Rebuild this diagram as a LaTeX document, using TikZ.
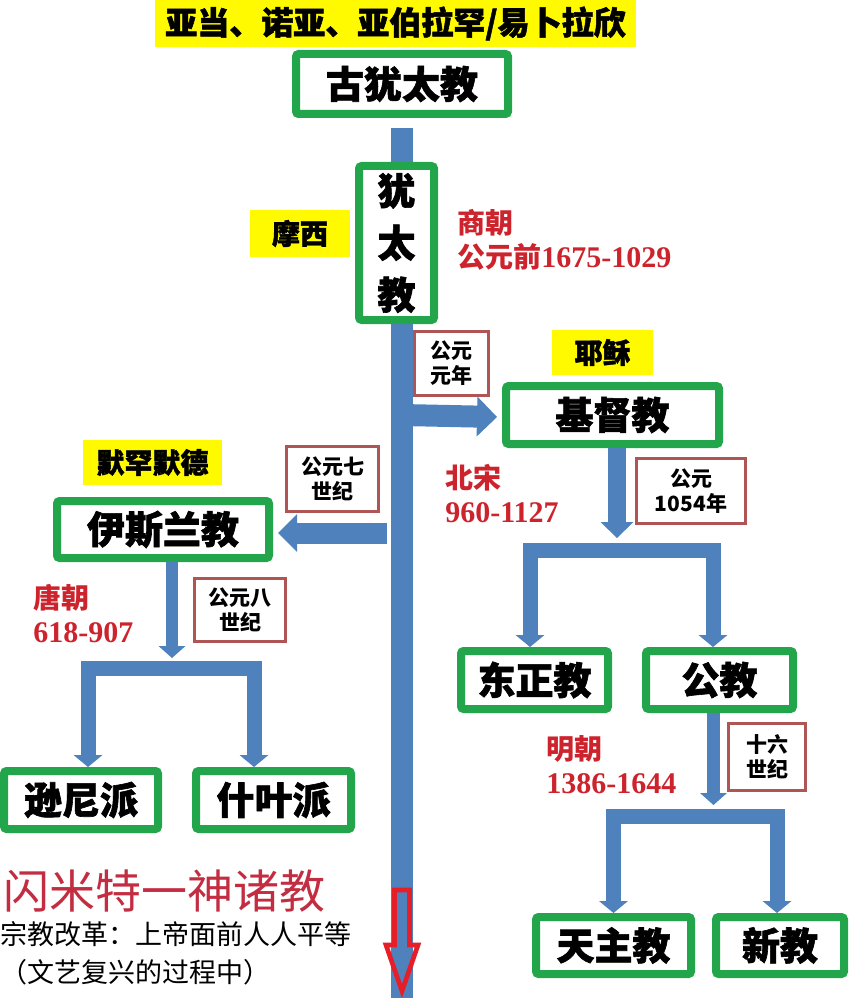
\documentclass[tikz,border=0pt]{standalone}
\usepackage{fontspec}
\setmainfont{Noto Sans CJK SC}
\newfontfamily\heavyfont{Noto Sans CJK SC}[BoldFeatures={FakeBold=1.6}]
\newfontfamily\numfont{Liberation Serif}
\usetikzlibrary{arrows.meta,calc,backgrounds}
\definecolor{cGreen}{RGB}{35,165,75}
\definecolor{cYellow}{RGB}{255,250,0}
\definecolor{cBlue}{RGB}{79,129,189}
\definecolor{cRBox}{RGB}{175,85,85}
\definecolor{cRText}{RGB}{205,35,45}
\definecolor{cBig}{RGB}{195,45,65}
\definecolor{cArrow}{RGB}{230,30,40}
\newcommand\numtxt[1]{{\numfont\bfseries\fontsize{22.5pt}{25.5pt}\selectfont #1}}
\tikzset{
  gsz/.style 2 args={minimum width={(#1-8)*0.75pt}, minimum height={(#2-8)*0.75pt}},
  rsz/.style 2 args={minimum width={(#1-3)*0.75pt}, minimum height={(#2-3)*0.75pt}},
  ysz/.style 2 args={minimum width={(#1)*0.75pt}, minimum height={(#2)*0.75pt}},
  gbox/.style={draw=cGreen, line width=6pt, fill=white, rounded corners=2pt, inner sep=0pt, align=center, font=\fontsize{28.5pt}{39pt}\selectfont\heavyfont\bfseries},
  ybox/.style={fill=cYellow, inner sep=0pt, font=\fontsize{21pt}{25pt}\selectfont\heavyfont\bfseries},
  rbox/.style={draw=cRBox, line width=2.25pt, fill=white, inner sep=0pt, align=center, font=\fontsize{15.75pt}{18.75pt}\selectfont\bfseries},
  rlabel/.style={anchor=west, inner sep=0pt, align=left, text=cRText, font=\fontsize{21pt}{25.5pt}\selectfont\bfseries},
  mainbar/.style={draw=cBlue, line width=16.5pt},
  arrR/.style={draw=cBlue, line width=16.5pt, -{Triangle[width=30pt,length=15pt,line width=0pt]}},
  arrL/.style={draw=cBlue, line width=15.75pt, -{Triangle[width=28.5pt,length=14.25pt,line width=0pt]}},
  arrDa/.style={draw=cBlue, line width=13.5pt, -{Triangle[width=24.75pt,length=12pt,line width=0pt]}},
  arrDb/.style={draw=cBlue, line width=9.4pt, -{Triangle[width=20.25pt,length=9pt,line width=0pt]}},
  brk/.style={draw=cBlue, line width=11.25pt, line join=miter, -{Triangle[width=21.75pt,length=9pt,line width=0pt]}},
  bigtext/.style={anchor=west, inner sep=0pt, text=cBig, font=\fontsize{34.5pt}{40pt}\selectfont},
  plaintext/.style={anchor=west, inner sep=0pt, text=black, font=\fontsize{20.25pt}{24pt}\selectfont}
}
\begin{document}
\begin{tikzpicture}[x=0.75pt,y=-0.75pt]
\useasboundingbox (0,0) rectangle (851,998);
% top
\node[ybox, ysz={481}{47}, font=\fontsize{24pt}{28pt}\selectfont\heavyfont\bfseries] (title) at (395.5,23.5) {亚当、诺亚、亚伯拉罕/易卜拉欣};
\node[gbox, gsz={220}{68}] (gu) at (402,84) {古犹太教};
\node[gbox, gsz={83}{162}] (yt) at (396.5,243) {犹\\太\\教};
\node[ybox, ysz={100}{47}] (moxi) at (300,233.5) {摩西};
\node[rlabel] (shang) at (457,240) {商朝\\公元前\numtxt{1675-1029}};
% christianity
\node[rbox, rsz={77}{67}] (ad) at (451.5,363.5) {公元\\元年};
\node[ybox, ysz={101}{45}] (yesu) at (602.5,352.5) {耶稣};
\node[gbox, gsz={221}{66}] (jdj) at (612.5,415) {基督教};
\node[rlabel] (beisong) at (445,494) {北宋\\\numtxt{960-1127}};
\node[rbox, rsz={112}{68}] (y1054) at (691,491) {公元\\1054年};
\node[gbox, gsz={155}{66}] (dzj) at (534.5,680) {东正教};
\node[gbox, gsz={155}{66}] (gj) at (719.5,680) {公教};
\node[rlabel] (ming) at (546,765) {明朝\\\numtxt{1386-1644}};
\node[rbox, rsz={80}{70}] (s16) at (767,757) {十六\\世纪};
\node[gbox, gsz={163}{65}] (tzj) at (613.5,945.5) {天主教};
\node[gbox, gsz={136}{65}] (xj) at (780,945.5) {新教};
% islam
\node[ybox, ysz={139}{45}] (mhmd) at (152.5,462.5) {默罕默德};
\node[gbox, gsz={220}{65}] (ysl) at (163,529.5) {伊斯兰教};
\node[rbox, rsz={95}{68}] (c7) at (332.5,479) {公元七\\世纪};
\node[rlabel] (tang) at (33,613.5) {唐朝\\\numtxt{618-907}};
\node[rbox, rsz={94}{66}] (c8) at (240,610) {公元八\\世纪};
\node[gbox, gsz={162}{66}] (sn) at (81,800) {逊尼派};
\node[gbox, gsz={163}{66}] (sy) at (273.5,800) {什叶派};
% bottom texts
\node[bigtext] (smt) at (3,891) {闪米特一神诸教};
\node[plaintext] (l1) at (0,934) {宗教改革：上帝面前人人平等};
\node[plaintext] (l2) at (0,972) {（文艺复兴的过程中）};
% main bar
\coordinate (barTop) at ($(gu.south)+(0,10)$);
\coordinate (barBot) at (402,998);
\begin{pgfonlayer}{background}
\draw[mainbar] (barTop) -- (barBot);
\end{pgfonlayer}
% branches
\draw[arrR] (jdj.west -| barTop) -- ($(jdj.west)+(-5,2)$);
\draw[arrL] ($(ysl.east -| barTop)+(-15,3.5)$) -- ($(ysl.east)+(5,3.5)$);
\coordinate (br1) at (617,550);
\draw[arrDa] (jdj.south -| br1) -- ($(br1)+(0,-12)$);
\draw[brk] (br1) -| ($(dzj.north)+(-4.5,0)$);
\draw[brk] (br1) -| ($(gj.north)+(-6.5,0)$);
\coordinate (br2) at (713.5,816);
\draw[arrDb] (gj.south -| br2) -- ($(br2)+(0,-11)$);
\draw[brk] (br2) -| (tzj.north);
\draw[brk] (br2) -| ($(xj.north)+(-3,0)$);
\coordinate (br3) at (172,668.5);
\draw[arrDb] (ysl.south -| br3) -- ($(br3)+(0,-10.5)$);
\draw[brk] (br3) -| ($(sn.north)+(7,0)$);
\draw[brk] (br3) -| ($(sy.north)+(-19.5,0)$);
% red outlined arrow
\draw[draw=cArrow, line width=3.5pt, line join=miter]
  ($(barBot)+(-7.5,-108)$) -- ++(15,0) -- ++(0,55) -- ++(8.5,0)
  -- ($(barBot)+(0,-7)$) -- ($(barBot)+(-16,-53)$) -- ++(8.5,0) -- cycle;
\end{tikzpicture}
\end{document}
